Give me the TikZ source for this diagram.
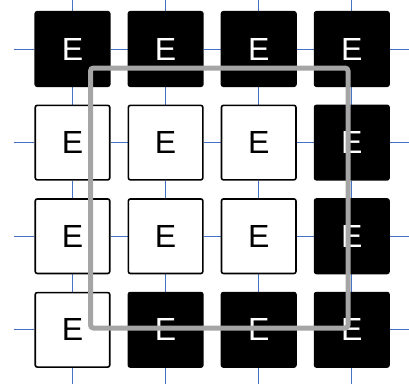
\documentclass[tikz,border=0pt]{standalone}
\usepackage{fontspec}
\setmainfont{Liberation Sans}
\usetikzlibrary{positioning, backgrounds}
\definecolor{gridBlue}{HTML}{4472C4}
\definecolor{frameGray}{HTML}{A5A5A5}

\begin{document}
\begin{tikzpicture}[
    x=1pt, y=-1pt,
    node distance=17.5pt and 17pt,
    cell/.style={
      rectangle, rounded corners=2pt, draw=black, line width=1.6pt,
      minimum size=74.5pt, inner sep=0pt,
      font=\fontsize{32}{32}\selectfont
    },
    on/.style={cell, fill=black, text=white},
    off/.style={cell, fill=white, text=black},
    wire/.style={gridBlue, line width=0.8pt},
    frame/.style={frameGray, line width=5pt, rounded corners=3pt},
  ]
  \useasboundingbox (0,0) rectangle (409,383);

  %% ── Row 1 ──
  \node[on] (c11) at (72.5,49) {E};
  \node[on,  right=of c11] (c12) {E};
  \node[on,  right=of c12] (c13) {E};
  \node[on,  right=of c13] (c14) {E};

  %% ── Row 2 ──
  \node[off, below=of c11] (c21) {E};
  \node[off, below=of c12] (c22) {E};
  \node[off, below=of c13] (c23) {E};
  \node[on,  below=of c14] (c24) {E};

  %% ── Row 3 ──
  \node[off, below=of c21] (c31) {E};
  \node[off, below=of c22] (c32) {E};
  \node[off, below=of c23] (c33) {E};
  \node[on,  below=of c24] (c34) {E};

  %% ── Row 4 ──
  \node[off, below=of c31] (c41) {E};
  \node[on,  below=of c32] (c42) {E};
  \node[on,  below=of c33] (c43) {E};
  \node[on,  below=of c34] (c44) {E};

  %% ── Blue grid lines ──
  \begin{scope}[on background layer]
    \foreach \r in {1,2,3,4} {
      \draw[wire] (c\r1) -- (c\r2);
      \draw[wire] (c\r2) -- (c\r3);
      \draw[wire] (c\r3) -- (c\r4);
      \draw[wire] (c\r1.west) -- ++(-20,0);
      \draw[wire] (c\r4.east) -- ++(20,0);
    }
    \foreach \c in {1,2,3,4} {
      \draw[wire] (c1\c) -- (c2\c);
      \draw[wire] (c2\c) -- (c3\c);
      \draw[wire] (c3\c) -- (c4\c);
      \draw[wire] (c1\c.north) -- ++(0,-20);
      \draw[wire] (c4\c.south) -- ++(0,20);
    }
  \end{scope}

  %% ── Grey frame ──
  \draw[frame] (90.5,68) rectangle (348,328);

\end{tikzpicture}
\end{document}
